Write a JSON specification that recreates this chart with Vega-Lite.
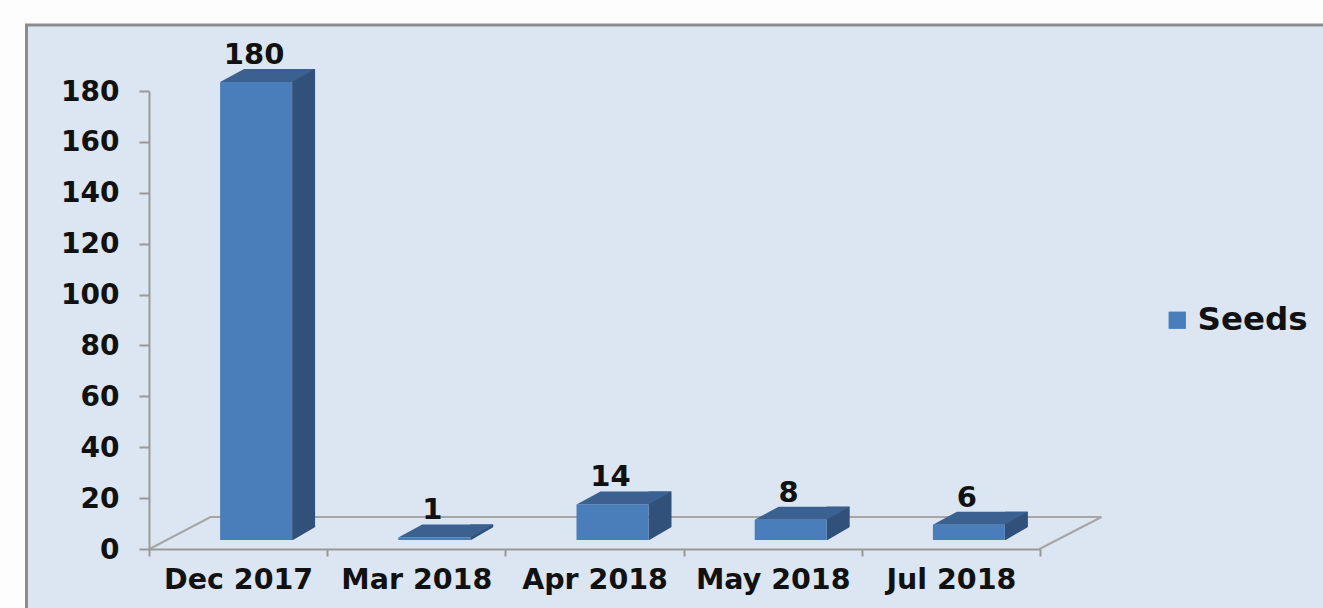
{
"$schema":"https://vega.github.io/schema/vega-lite/v6.json",
"autosize":{"type":"none"},
"width":891,"height":458,
"padding":{"left":149,"top":91,"right":283,"bottom":59},
"background":"#FDFDFD",
"config":{"view":{"stroke":null},"font":"DejaVu Sans"},
"data":{"values":[
{"month":"Dec 2017","value":180,"series":"Seeds"},
{"month":"Mar 2018","value":1,"series":"Seeds"},
{"month":"Apr 2018","value":14,"series":"Seeds"},
{"month":"May 2018","value":8,"series":"Seeds"},
{"month":"Jul 2018","value":6,"series":"Seeds"}]},
"encoding":{
"x":{"field":"month","type":"nominal","title":null,
"scale":{"domain":["Dec 2017","Mar 2018","Apr 2018","May 2018","Jul 2018"],"paddingInner":0,"paddingOuter":0},
"axis":{"zindex":1,"labelAngle":0,"tickBand":"extent","tickSize":7,"tickWidth":2,"tickColor":"#999999","domainColor":"#999999","domainWidth":2,"labelFont":"DejaVu Sans","labelFontWeight":"bold","labelFontSize":28.5,"labelColor":"#111111","labelPadding":9,"labelOverlap":false,"labelFlush":false}},
"y":{"field":"value","type":"quantitative","title":null,
"scale":{"domain":[0,180],"nice":false},
"axis":{"zindex":1,"values":[0,20,40,60,80,100,120,140,160,180],"grid":false,"tickSize":10,"tickWidth":2,"tickColor":"#999999","domainColor":"#999999","domainWidth":2,"labelFont":"DejaVu Sans","labelFontWeight":"bold","labelFontSize":28,"labelColor":"#111111","labelPadding":20,"labelOffset":1,"labelOverlap":false,"labelFlush":false}}
},
"layer":[
{"transform":[{"filter":"datum.month==='Apr 2018'"}],
 "mark":{"type":"point","filled":true,"size":4,"opacity":1,"fill":"#DCE6F2","stroke":"#8C8C8C","strokeWidth":3,"shape":"M-568,-524 L745,-524 L745,80 L-568,80 Z"},
 "encoding":{"y":{"datum":0}}},
{"transform":[{"filter":"datum.month==='Apr 2018'"}],
 "mark":{"type":"point","filled":false,"size":4,"opacity":1,"stroke":"#A6A6A6","strokeWidth":2,"shape":"M-445,0 L-384,-32 L507,-32 L445,0"},
 "encoding":{"y":{"datum":0}}},
{"mark":{"type":"bar","width":23,"xOffset":65.5,"yOffset":-22,"y2Offset":-9,"fill":"#31517A"},
 "encoding":{"y2":{"datum":0}}},
{"mark":{"type":"point","filled":true,"size":4,"opacity":1,"fill":"#DCE6F2","stroke":null,"shape":"M54,-8.5 L78,-8.5 L78,-22.5 Z"},
 "encoding":{"y":{"datum":0}}},
{"mark":{"type":"bar","width":72,"xOffset":18,"yOffset":-9,"y2Offset":-9},
 "encoding":{"y2":{"datum":0},
  "fill":{"field":"series","type":"nominal","title":null,
   "scale":{"range":["#4A7EBB"]},
   "legend":{"orient":"none","legendX":1012,"legendY":213,"symbolType":"square","symbolSize":300,"symbolStrokeWidth":0,"labelFont":"DejaVu Sans","labelFontWeight":"bold","labelFontSize":32.5,"labelColor":"#111111","labelOffset":4,"padding":0}}}},
{"mark":{"type":"point","filled":true,"size":4,"opacity":1,"fill":"#3A6190","stroke":null,"shape":"M-18,-9 L54,-9 L77,-22 L6,-22 Z"}},
{"mark":{"type":"text","dx":16,"dy":-27,"align":"center","baseline":"alphabetic","font":"DejaVu Sans","fontWeight":"bold","fontSize":29,"fill":"#111111"},
 "encoding":{"text":{"field":"value","type":"quantitative"}}}
]
}
